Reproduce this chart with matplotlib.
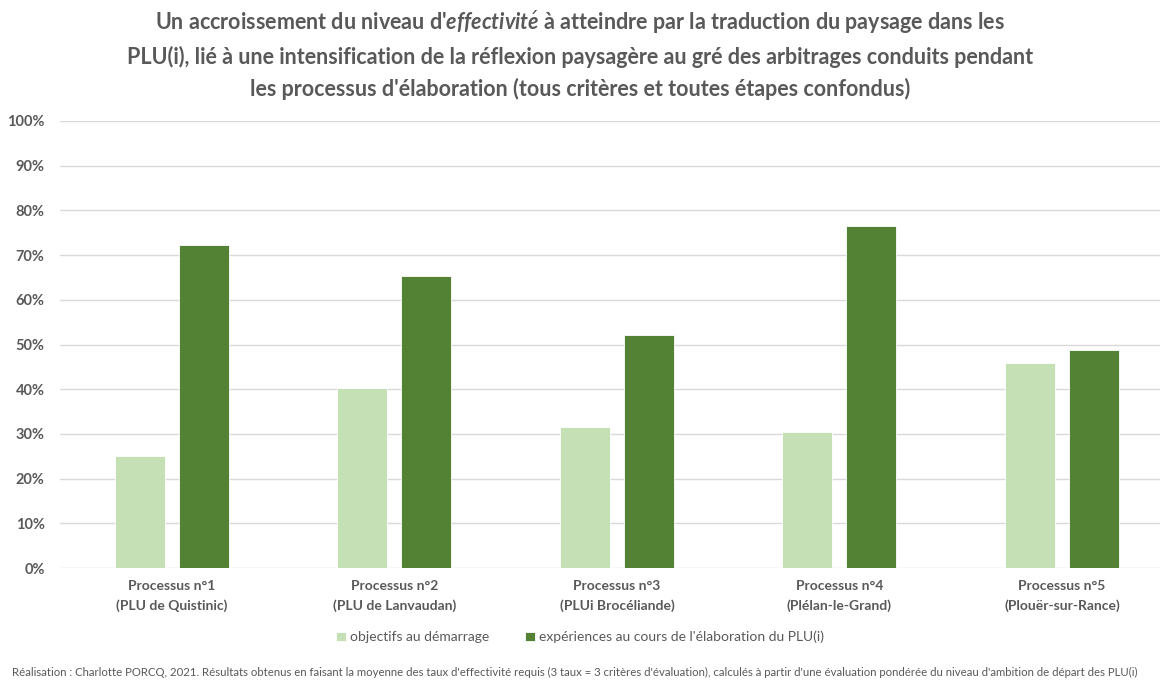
import numpy as np
import matplotlib.pyplot as plt
from matplotlib.ticker import PercentFormatter

# Data
processus = ["Processus n°1\n(PLU de Quistinic)", "Processus n°2\n(PLU de Lanvaudan)",
             "Processus n°3\n(PLUi Brocéliande)", "Processus n°4\n(Plélan-le-Grand)",
             "Processus n°5\n(Plouër-sur-Rance)"]
objectifs = [25.0, 40.3, 31.5, 30.4, 45.9]
experiences = [72.3, 65.3, 52.1, 76.5, 48.8]
series_names = ["objectifs au démarrage", "expériences au cours de l'élaboration du PLU(i)"]

light = "#C5E0B4"
dark = "#548235"
grey = "#595959"

plt.rcParams['font.family'] = ['Lato', 'DejaVu Sans']
plt.rcParams['mathtext.fontset'] = 'custom'
plt.rcParams['mathtext.it'] = 'Lato:bold:italic'
plt.rcParams['mathtext.bf'] = 'Lato:bold:italic'

fig = plt.figure(figsize=(11.6, 6.8), dpi=100)
ax = fig.add_axes([60 / 1160, 112 / 680, 1100 / 1160, 447 / 680])

x = np.arange(len(processus))
w = 0.225
off = 0.144
ax.bar(x - off, objectifs, w, color=light, edgecolor="white", linewidth=0.6, label=series_names[0], zorder=3)
ax.bar(x + off, experiences, w, color=dark, edgecolor="white", linewidth=0.6, label=series_names[1], zorder=3)

ax.set_ylim(0, 100)
ax.set_xlim(-0.503, 4.441)
ax.set_yticks(np.arange(0, 101, 10))
ax.yaxis.set_major_formatter(PercentFormatter(decimals=0))
ax.grid(axis="y", color="#D9D9D9", linewidth=1.0, zorder=0)
for s in ax.spines.values():
    s.set_visible(False)
ax.tick_params(axis="both", length=0)
ax.tick_params(axis="y", pad=11, labelsize=10.5, labelcolor=grey)
for t in ax.get_yticklabels():
    t.set_fontweight("bold")

ax.set_xticks(x)
ax.set_xticklabels(processus, fontsize=10, fontweight="bold", color=grey, linespacing=1.6)
ax.tick_params(axis="x", pad=9)

title = ("Un accroissement du niveau d'$\\mathit{effectivit\\acute{e}}$ à atteindre par la traduction du paysage dans les\n"
         "PLU(i), lié à une intensification de la réflexion paysagère au gré des arbitrages conduits pendant\n"
         "les processus d'élaboration (tous critères et toutes étapes confondus)")
fig.text(0.5, 1 - 54 / 680, title, ha="center", va="center", fontsize=15.5,
         fontweight="bold", color=grey, linespacing=1.55)

fig.legend(loc="center", bbox_to_anchor=(0.5, 1 - 637 / 680), ncol=2, frameon=False,
           fontsize=10, handlelength=0.7, handleheight=0.7, handletextpad=0.3,
           columnspacing=2.6, labelcolor=grey)

fig.text(12 / 1160, 1 - 672 / 680,
         "Réalisation : Charlotte PORCQ, 2021. Résultats obtenus en faisant la moyenne des taux d'effectivité requis "
         "(3 taux = 3 critères d'évaluation), calculés à partir d'une évaluation pondérée du niveau d'ambition de départ des PLU(i)",
         ha="left", va="center", fontsize=8.2, color=grey)

fig.savefig("out.png", dpi=100)
